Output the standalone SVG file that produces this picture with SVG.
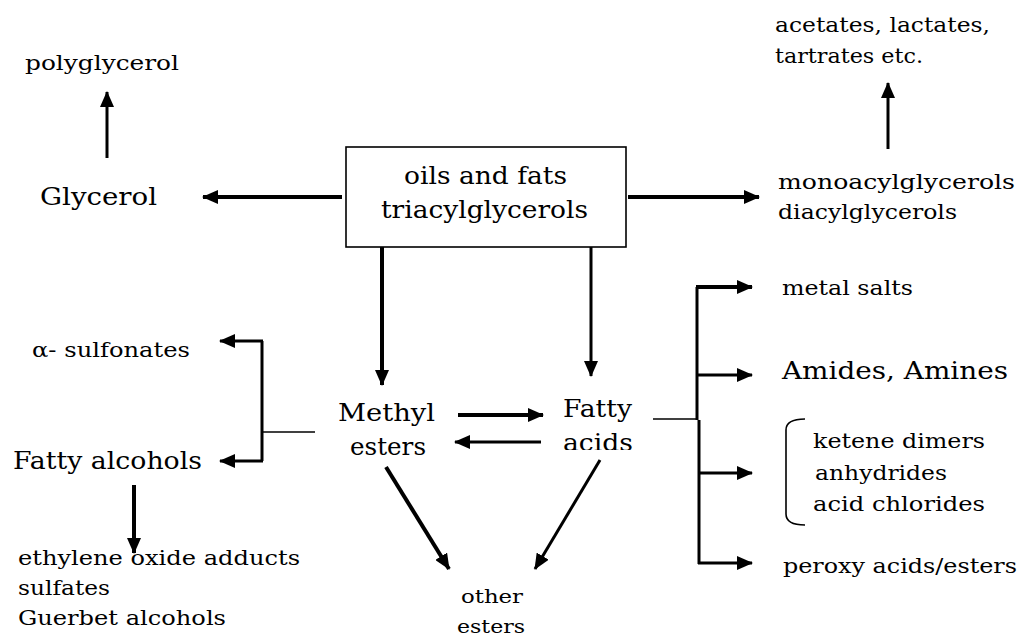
<svg xmlns="http://www.w3.org/2000/svg" width="1027" height="636" viewBox="0 0 1027 636">
<style>
text{fill:#000;}
.l{font-size:24px;}
.m{font-size:20px;}
.s{font-size:18px;}
.thick{stroke:#000;stroke-width:4;fill:none;}
.med{stroke:#000;stroke-width:3;fill:none;}
.thin{stroke:#000;stroke-width:1.6;fill:none;}
</style>
<defs>
<marker id="ah" markerUnits="userSpaceOnUse" markerWidth="16" markerHeight="14" refX="15" refY="7" orient="auto">
<path d="M0,0 L16,7 L0,14 z" fill="#000"/>
</marker>
<clipPath id="acidclip"><rect x="540" y="420" width="120" height="30"/></clipPath>
</defs>
<rect width="1027" height="636" fill="#fff"/>

<g id="connectors">
<line class="thick" x1="342" y1="197" x2="203" y2="197" marker-end="url(#ah)"/>
<line class="med" x1="107" y1="158" x2="107" y2="92" marker-end="url(#ah)"/>
<line class="thick" x1="628" y1="197" x2="759" y2="197" marker-end="url(#ah)"/>
<line class="med" x1="888" y1="149" x2="888" y2="83" marker-end="url(#ah)"/>
<line class="thick" x1="382" y1="247" x2="382" y2="385" marker-end="url(#ah)"/>
<line class="med" x1="591" y1="247" x2="591" y2="376" marker-end="url(#ah)"/>
<line class="thick" x1="458" y1="415" x2="543" y2="415" marker-end="url(#ah)"/>
<line class="med" x1="541" y1="442" x2="455" y2="442" marker-end="url(#ah)"/>
<line class="thick" x1="386" y1="467" x2="449" y2="569" marker-end="url(#ah)"/>
<line class="med" x1="600" y1="460" x2="535" y2="569" marker-end="url(#ah)"/>
<line class="thin" x1="315" y1="432" x2="262" y2="432"/>
<polyline class="med" points="262,341 262,461" />
<line class="med" x1="263" y1="341" x2="220" y2="341" marker-end="url(#ah)"/>
<line class="med" x1="263" y1="461" x2="220" y2="461" marker-end="url(#ah)"/>
<line class="thick" x1="134" y1="485" x2="134" y2="553" marker-end="url(#ah)"/>
<line class="thin" x1="653" y1="419" x2="698" y2="419"/>
<line class="med" x1="697" y1="287" x2="697" y2="420"/>
<line class="med" x1="699" y1="420" x2="699" y2="564"/>
<line class="thick" x1="696" y1="287" x2="752" y2="287" marker-end="url(#ah)"/>
<line class="med" x1="696" y1="375" x2="752" y2="375" marker-end="url(#ah)"/>
<line class="med" x1="698" y1="473" x2="752" y2="473" marker-end="url(#ah)"/>
<line class="med" x1="698" y1="563" x2="752" y2="563" marker-end="url(#ah)"/>
<path class="thin" d="M805,419 Q786,419 786,430 L786,514 Q786,525 805,525"/>
</g>

<g font-family="'DejaVu Serif', 'Liberation Serif', serif">
<g id="oils-fats">
<rect x="346" y="147" width="280" height="100" fill="#fff" stroke="#000" stroke-width="1.6"/>
<text class="l" x="404" y="184" textLength="163" lengthAdjust="spacingAndGlyphs">oils and fats</text>
<text class="l" x="381" y="218" textLength="207" lengthAdjust="spacingAndGlyphs">triacylglycerols</text>
</g>
<g id="glycerol"><text class="l" x="40" y="205" textLength="117" lengthAdjust="spacingAndGlyphs">Glycerol</text></g>
<g id="polyglycerol"><text class="m" x="25" y="70" textLength="154" lengthAdjust="spacingAndGlyphs">polyglycerol</text></g>
<g id="acetates">
<text class="m" x="775" y="32" textLength="215" lengthAdjust="spacingAndGlyphs">acetates, lactates,</text>
<text class="m" x="775" y="63" textLength="148" lengthAdjust="spacingAndGlyphs">tartrates etc.</text>
</g>
<g id="acylglycerols">
<text class="m" x="778" y="189" textLength="237" lengthAdjust="spacingAndGlyphs">monoacylglycerols</text>
<text class="m" x="778" y="219" textLength="179" lengthAdjust="spacingAndGlyphs">diacylglycerols</text>
</g>
<g id="methyl-esters">
<text class="l" x="338" y="421" textLength="97" lengthAdjust="spacingAndGlyphs">Methyl</text>
<text class="l" x="350" y="455" textLength="76" lengthAdjust="spacingAndGlyphs">esters</text>
</g>
<g id="fatty-acids">
<text class="l" x="563" y="417" textLength="69" lengthAdjust="spacingAndGlyphs">Fatty</text>
<text class="l" x="563" y="451" textLength="70" lengthAdjust="spacingAndGlyphs" clip-path="url(#acidclip)">acids</text>
</g>
<g id="other-esters">
<text class="s" x="461" y="603" textLength="62" lengthAdjust="spacingAndGlyphs">other</text>
<text class="s" x="457" y="633" textLength="68" lengthAdjust="spacingAndGlyphs">esters</text>
</g>
<g id="sulfonates"><text class="m" x="32" y="357" textLength="158" lengthAdjust="spacingAndGlyphs">α- sulfonates</text></g>
<g id="fatty-alcohols"><text class="l" x="13" y="469" textLength="189" lengthAdjust="spacingAndGlyphs">Fatty alcohols</text></g>
<g id="alcohol-products">
<text class="m" x="18" y="565" textLength="282" lengthAdjust="spacingAndGlyphs">ethylene oxide adducts</text>
<text class="m" x="18" y="595" textLength="92" lengthAdjust="spacingAndGlyphs">sulfates</text>
<text class="m" x="18" y="625" textLength="208" lengthAdjust="spacingAndGlyphs">Guerbet alcohols</text>
</g>
<g id="metal-salts"><text class="m" x="782" y="295" textLength="131" lengthAdjust="spacingAndGlyphs">metal salts</text></g>
<g id="amides"><text class="l" x="782" y="379" textLength="226" lengthAdjust="spacingAndGlyphs">Amides, Amines</text></g>
<g id="ketene-group">
<text class="m" x="813" y="448" textLength="172" lengthAdjust="spacingAndGlyphs">ketene dimers</text>
<text class="m" x="815" y="480" textLength="132" lengthAdjust="spacingAndGlyphs">anhydrides</text>
<text class="m" x="813" y="511" textLength="172" lengthAdjust="spacingAndGlyphs">acid chlorides</text>
</g>
<g id="peroxy"><text class="m" x="783" y="573" textLength="234" lengthAdjust="spacingAndGlyphs">peroxy acids/esters</text></g>
</g>
</svg>
